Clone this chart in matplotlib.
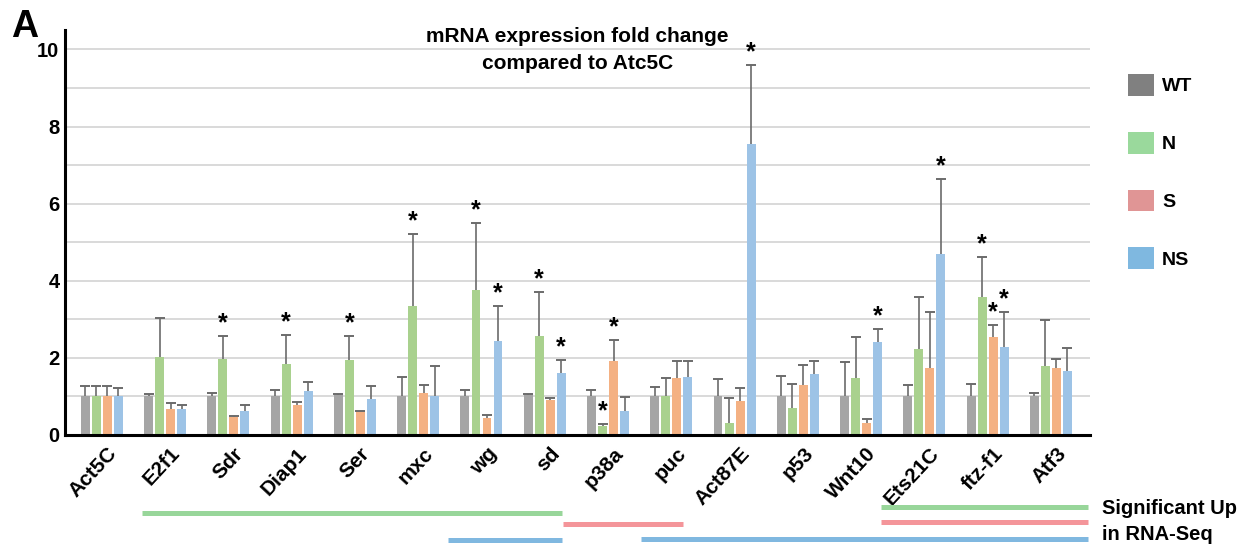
import numpy as np
import matplotlib
matplotlib.use('Agg')
import matplotlib.pyplot as plt
import matplotlib.transforms as mtransforms
from matplotlib.patches import Patch

plt.rcParams['font.family'] = ['Liberation Sans', 'DejaVu Sans']
plt.rcParams['font.weight'] = 'bold'

# gene names on the x axis
genes = ['Act5C', 'E2f1', 'Sdr', 'Diap1', 'Ser', 'mxc', 'wg', 'sd', 'p38a', 'puc',
         'Act87E', 'p53', 'Wnt10', 'Ets21C', 'ftz-f1', 'Atf3']

# fold change per genotype and upper error
wt = [1.0, 1.0, 1.0, 1.0, 1.03, 1.0, 1.0, 1.03, 1.0, 1.0, 1.0, 1.0, 1.0, 1.0, 1.0, 1.0]
wt_err = [0.26, 0.07, 0.10, 0.17, 0.02, 0.50, 0.17, 0.03, 0.16, 0.25, 0.45, 0.53, 0.89, 0.30, 0.33, 0.10]
n = [1.0, 2.02, 1.98, 1.85, 1.95, 3.35, 3.77, 2.58, 0.24, 1.0, 0.30, 0.71, 1.49, 2.23, 3.57, 1.79]
n_err = [0.26, 1.01, 0.58, 0.75, 0.62, 1.87, 1.74, 1.13, 0.05, 0.49, 0.65, 0.61, 1.04, 1.34, 1.04, 1.18]
s = [1.0, 0.68, 0.47, 0.77, 0.61, 1.09, 0.43, 0.90, 1.92, 1.48, 0.89, 1.30, 0.30, 1.75, 2.54, 1.74]
s_err = [0.26, 0.15, 0.03, 0.08, 0.02, 0.21, 0.08, 0.06, 0.54, 0.43, 0.33, 0.51, 0.11, 1.43, 0.30, 0.23]
ns = [1.0, 0.68, 0.62, 1.15, 0.93, 1.02, 2.43, 1.62, 0.61, 1.51, 7.55, 1.57, 2.42, 4.69, 2.27, 1.65]
ns_err = [0.23, 0.11, 0.17, 0.22, 0.33, 0.78, 0.92, 0.33, 0.37, 0.40, 2.04, 0.34, 0.33, 1.94, 0.91, 0.60]

series_names = ['WT', 'N', 'S', 'NS']

# significant bars (gene, genotype)
stars = [('Sdr', 'N'), ('Diap1', 'N'), ('Ser', 'N'), ('mxc', 'N'), ('wg', 'N'), ('wg', 'NS'),
         ('sd', 'N'), ('sd', 'NS'), ('p38a', 'N'), ('p38a', 'S'), ('Act87E', 'NS'),
         ('Wnt10', 'NS'), ('Ets21C', 'NS'), ('ftz-f1', 'N'), ('ftz-f1', 'S'), ('ftz-f1', 'NS')]

# "Significant Up in RNA-Seq" ranges, in gene-index units
sig_n = [(0.63, 7.27), (12.32, 15.59)]
sig_s = [(7.29, 9.19), (12.32, 15.59)]
sig_ns = [(5.47, 7.27), (8.52, 15.59)]

bar_colors = {'WT': '#a5a5a5', 'N': '#a9d18e', 'S': '#f4b183', 'NS': '#9dc3e6'}
leg_colors = {'WT': '#808080', 'N': '#9ad99c', 'S': '#e09595', 'NS': '#7fb8e0'}
line_colors = {'N': '#98d69a', 'S': '#f4959a', 'NS': '#80b8e0'}

fig = plt.figure(figsize=(12.47, 5.49), dpi=100)
ax = fig.add_axes([0.0521, 0.2077, 0.8220, 0.7373])

x = np.arange(len(genes))
step = 0.174
width = 0.142
vals = {'WT': (wt, wt_err), 'N': (n, n_err), 'S': (s, s_err), 'NS': (ns, ns_err)}
for k, name in enumerate(series_names):
    v, e = vals[name]
    v = np.array(v)
    e = np.array(e)
    pos = x + (k - 1.5) * step
    ax.bar(pos, v, width, color=bar_colors[name], zorder=2)
    # only the upper half of the error bar, as in the original
    ax.vlines(pos, v, v + e, color='#6b6b6b', linewidth=1.2, zorder=3)
    ax.plot(pos, v + e, linestyle='none', marker='_', markersize=7, markeredgewidth=1.4,
            color='#6b6b6b', zorder=3)

for g, name in stars:
    i = genes.index(g)
    k = series_names.index(name)
    v, e = vals[name]
    ax.annotate('*', (x[i] + (k - 1.5) * step, v[i] + e[i]), xytext=(0, 0.5),
                textcoords='offset points', ha='center', va='bottom',
                fontsize=18, fontweight='bold')

ax.set_xlim(-0.585, 15.62)
ax.set_ylim(0, 10.5)
ax.set_yticks(range(0, 11, 2))
ax.set_yticks(range(1, 11, 2), minor=True)
ax.grid(axis='y', which='both', color='#d9d9d9', linewidth=1.4, zorder=0)
ax.set_axisbelow(True)
ax.tick_params(axis='y', which='both', length=0, labelsize=14.5, pad=4)
for lab in ax.get_yticklabels():
    lab.set_fontweight('bold')

ax.set_xticks(x)
ax.set_xticklabels(genes, rotation=47, ha='right', va='center', rotation_mode='anchor',
                   fontsize=15, fontweight='bold')
ax.tick_params(axis='x', length=0, pad=11)
shift = mtransforms.ScaledTranslation(0.12, 0, fig.dpi_scale_trans)
for lab in ax.get_xticklabels():
    lab.set_transform(lab.get_transform() + shift)

for side in ['top', 'right']:
    ax.spines[side].set_visible(False)
for side in ['left', 'bottom']:
    ax.spines[side].set_linewidth(2.2)
    ax.spines[side].set_color('black')

fig.text(0.463, 0.934, 'mRNA expression fold change', ha='center', va='center',
         fontsize=15, fontweight='bold')
fig.text(0.463, 0.885, 'compared to Atc5C', ha='center', va='center',
         fontsize=15, fontweight='bold')
fig.text(0.009, 0.9326, 'A', ha='left', va='baseline', fontsize=27, fontweight='bold')

handles = [Patch(facecolor=leg_colors[nm], edgecolor='none') for nm in series_names]
fig.legend(handles, series_names, loc='upper left', bbox_to_anchor=(1128 / 1247, 1 - 74 / 549),
           frameon=False, handlelength=1.35, handleheight=1.35,
           labelspacing=1.85, handletextpad=0.4, borderpad=0, borderaxespad=0,
           prop={'weight': 'bold', 'size': 14})

# significance lines below the axis
trans = mtransforms.blended_transform_factory(ax.transData, fig.transFigure)
for (a, b), y in zip(sig_n, [0.0655, 0.0765]):
    ax.plot([a, b], [y, y], color=line_colors['N'], linewidth=3.6, transform=trans,
            clip_on=False, solid_capstyle='butt')
for (a, b), y in zip(sig_s, [0.0455, 0.0492]):
    ax.plot([a, b], [y, y], color=line_colors['S'], linewidth=3.6, transform=trans,
            clip_on=False, solid_capstyle='butt')
for (a, b), y in zip(sig_ns, [0.0164, 0.0190]):
    ax.plot([a, b], [y, y], color=line_colors['NS'], linewidth=3.6, transform=trans,
            clip_on=False, solid_capstyle='butt')

fig.text(1102 / 1247, 1 - 509 / 549, 'Significant Up', ha='left', va='center',
         fontsize=14.5, fontweight='bold')
fig.text(1102 / 1247, 1 - 535 / 549, 'in RNA-Seq', ha='left', va='center',
         fontsize=14.5, fontweight='bold')

fig.savefig('out.png', dpi=100)
